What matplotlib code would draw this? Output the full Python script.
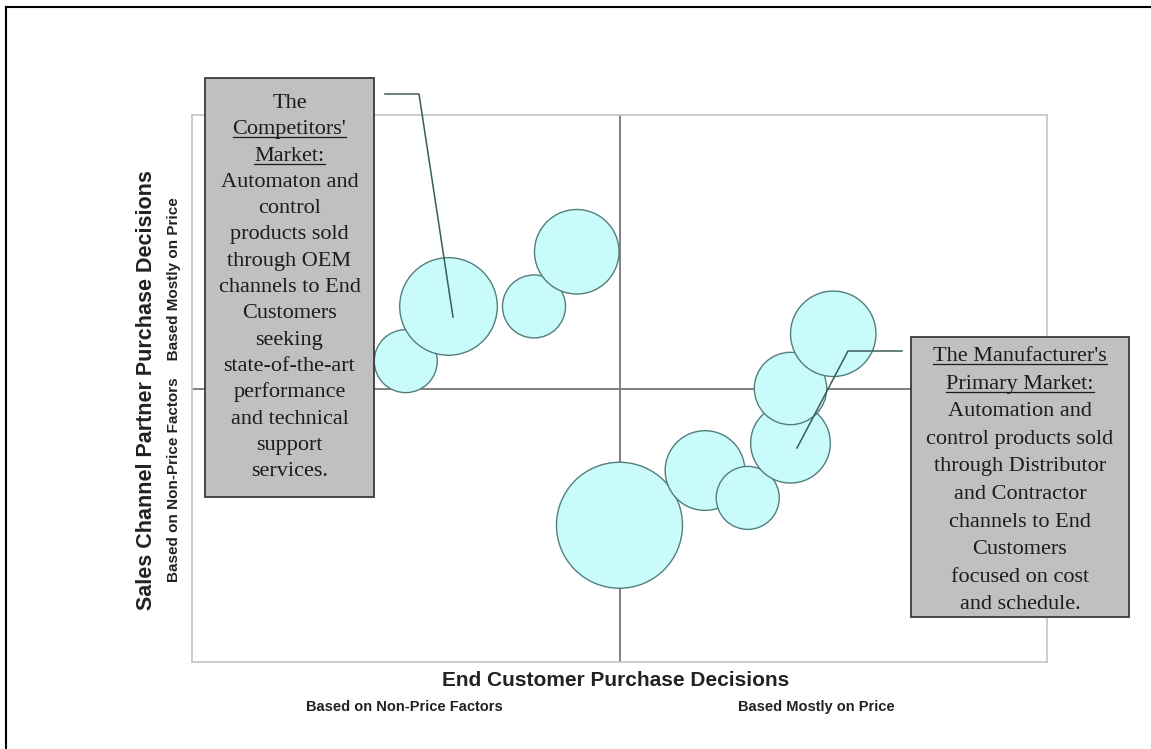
import numpy as np
import matplotlib
matplotlib.use("Agg")
import matplotlib.pyplot as plt
from matplotlib.patches import Rectangle
from matplotlib.lines import Line2D
from matplotlib.transforms import Affine2D

W, H = 1151, 749

# ---------- data ----------
# x: end customer decision (negative = non-price factors, positive = price)
# y: channel partner decision (negative = non-price factors, positive = price)
end_customer = [-5, -4, -2, -1, 0, 2, 3, 4, 4, 5]
channel_partner = [1, 3, 3, 5, -5, -3, -4, -2, 0, 2]
bubble_size = [25, 60, 25, 45, 100, 40, 25, 40, 33, 46]

left_box_lines = ["The", "Competitors'", "Market:", "Automaton and", "control",
                  "products sold", "through OEM", "channels to End", "Customers",
                  "seeking", "state-of-the-art", "performance", "and technical",
                  "support", "services."]
left_underlined = [1, 2]

right_box_lines = ["The Manufacturer's", "Primary Market:", "Automation and",
                   "control products sold", "through Distributor", "and Contractor",
                   "channels to End", "Customers", "focused on cost", "and schedule."]
right_underlined = [0, 1]

x_label = "End Customer Purchase Decisions"
x_sub = ["Based on Non-Price Factors", "Based Mostly on Price"]
y_label = "Sales Channel Partner Purchase Decisions"
y_sub = "Based on Non-Price Factors    Based Mostly on Price"


# ---------- figure ----------
fig = plt.figure(figsize=(W / 100, H / 100), dpi=100)
# pixel coordinates, origin top-left (for layout of boxes / labels)
px = Affine2D().scale(1 / W, -1 / H).translate(0, 1) + fig.transFigure

ax = fig.add_axes([192 / W, 1 - 662 / H, 855 / W, 547 / H])
ax.set_xlim(-10, 10)
ax.set_ylim(-10, 10)
ax.set_xticks([])
ax.set_yticks([])
for sp in ax.spines.values():
    sp.set_color("#C4C4C4")
    sp.set_linewidth(1.2)

ax.axvline(0, color="#808080", lw=1.4, zorder=1)
ax.axhline(0, color="#808080", lw=1.4, zorder=1)

k = (2 * 63 * 0.72) ** 2 / 100  # size 100 -> 63 px radius
ax.scatter(end_customer, channel_partner, s=np.array(bubble_size) * k,
           c="#CAFBFB", edgecolors="#527E7E", linewidths=1.0, zorder=2)

# outer frame (top + left only visible)
fig.add_artist(Line2D([6.5, 6.5], [6.5, H], transform=px, color="black", lw=1.5))
fig.add_artist(Line2D([6.5, W], [6.5, 6.5], transform=px, color="black", lw=1.5))

# leader lines
lead_col = "#3C5C5C"
fig.add_artist(Line2D([385, 419, 453], [94, 94, 317], transform=px,
                      color=lead_col, lw=1.1, zorder=1))
fig.add_artist(Line2D([902, 848, 797], [351, 351, 448], transform=px,
                      color=lead_col, lw=1.1, zorder=1))

# callout boxes
serif = ["Liberation Serif", "DejaVu Serif"]


def callout(x0, y0, w, h, lines, first_base, step, underlined):
    fig.add_artist(Rectangle((x0, y0), w, h, transform=px, fc="#C0C0C0",
                             ec="#3A3A3A", lw=1.3, zorder=2))
    cx = x0 + w / 2
    texts = []
    for i, line in enumerate(lines):
        by = first_base + i * step
        t = fig.text(cx, by, line, transform=px, ha="center", va="baseline",
                     fontsize=16, family=serif, color="#1C1C1C", zorder=3)
        texts.append((t, by))
    return [(texts[i]) for i in underlined]


under = []
under += callout(205, 78, 169, 419, left_box_lines, 108, 26.3, left_underlined)
under += callout(911, 337, 218, 280, right_box_lines, 361, 27.6, right_underlined)

# axis titles
sans = ["Liberation Sans", "DejaVu Sans"]
fig.text(147, 390, y_label, transform=px, rotation=90, ha="center", va="center",
         fontsize=15.5, weight="bold", family=sans, color="#222222")
fig.text(174, 390, y_sub, transform=px, rotation=90, ha="center", va="center",
         fontsize=11, weight="bold", family=sans, color="#222222")
fig.text(616, 680, x_label, transform=px, ha="center", va="center",
         fontsize=15, weight="bold", family=sans, color="#222222")
fig.text(404, 707, x_sub[0], transform=px, ha="center", va="center",
         fontsize=10.5, weight="bold", family=sans, color="#222222")
fig.text(816, 707, x_sub[1], transform=px, ha="center", va="center",
         fontsize=10.5, weight="bold", family=sans, color="#222222")

# underline the headings of the callouts
fig.canvas.draw()
r = fig.canvas.get_renderer()
for t, by in under:
    bb = t.get_window_extent(renderer=r)
    fig.add_artist(Line2D([bb.x0, bb.x1], [by + 3, by + 3], transform=px,
                          color="#1C1C1C", lw=0.9, zorder=3))

fig.savefig("out.png", dpi=100)
